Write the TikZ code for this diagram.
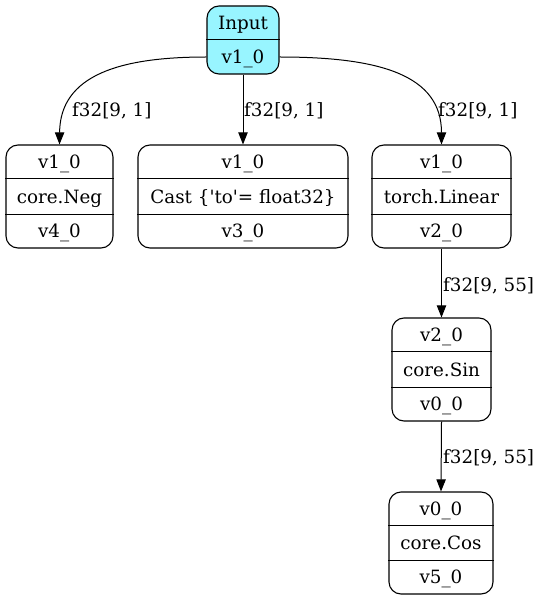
\documentclass[tikz,border=0pt]{standalone}
\usepackage{fontspec}
\setmainfont{DejaVu Serif}
\usetikzlibrary{arrows.meta}
\definecolor{incyan}{HTML}{98F5FF}
\tikzset{
  box/.style={draw, line width=1.1pt, rounded corners=12pt, inner sep=0pt, fill=white},
  txt/.style={inner sep=0pt, text height=13.3pt, text depth=0pt, font=\fontsize{18.3}{22}\selectfont},
  lbl/.style={txt, anchor=west},
  div/.style={line width=1pt},
  edge/.style={line width=1pt, -{Triangle[length=12pt,width=9.3pt]}}
}
\begin{document}
\begin{tikzpicture}[x=1pt,y=-1pt]
\useasboundingbox (0,0) rectangle (540,601);
% Input
\node[box, fill=incyan, minimum width=72pt, minimum height=68pt] (in) at (243,40) {};
\draw[div] (in.west) -- (in.east);
\node[txt] (in1) at (243,23) {Input};
\node[txt] (in2) at (243,57) {v1\_0};
% Neg
\node[box, minimum width=107pt, minimum height=103pt] (neg) at (59.5,196.5) {};
\draw[div] ([yshift=-34.3pt]neg.north west) -- ([yshift=-34.3pt]neg.north east);
\draw[div] ([yshift=34.3pt]neg.south west) -- ([yshift=34.3pt]neg.south east);
\node[txt] (neg1) at (59.5,162.2) {v1\_0};
\node[txt] (neg2) at (59.5,196.5) {core.Neg};
\node[txt] (neg3) at (59.5,230.8) {v4\_0};
% Cast
\node[box, minimum width=210pt, minimum height=103pt] (cast) at (243,196.5) {};
\draw[div] ([yshift=-34.3pt]cast.north west) -- ([yshift=-34.3pt]cast.north east);
\draw[div] ([yshift=34.3pt]cast.south west) -- ([yshift=34.3pt]cast.south east);
\node[txt] (cast1) at (243,162.2) {v1\_0};
\node[txt] (cast2) at (243,196.5) {Cast \{\textquotesingle to\textquotesingle= float32\}};
\node[txt] (cast3) at (243,230.8) {v3\_0};
% Linear
\node[box, minimum width=139pt, minimum height=103pt] (lin) at (441.5,196.5) {};
\draw[div] ([yshift=-34.3pt]lin.north west) -- ([yshift=-34.3pt]lin.north east);
\draw[div] ([yshift=34.3pt]lin.south west) -- ([yshift=34.3pt]lin.south east);
\node[txt] (lin1) at (441.5,162.2) {v1\_0};
\node[txt] (lin2) at (441.5,196.5) {torch.Linear};
\node[txt] (lin3) at (441.5,230.8) {v2\_0};
% Sin
\node[box, minimum width=99pt, minimum height=103pt] (sin) at (441.5,369.5) {};
\draw[div] ([yshift=-34.3pt]sin.north west) -- ([yshift=-34.3pt]sin.north east);
\draw[div] ([yshift=34.3pt]sin.south west) -- ([yshift=34.3pt]sin.south east);
\node[txt] (sin1) at (441.5,335.2) {v2\_0};
\node[txt] (sin2) at (441.5,369.5) {core.Sin};
\node[txt] (sin3) at (441.5,403.8) {v0\_0};
% Cos
\node[box, minimum width=104pt, minimum height=102pt] (cos) at (441,543) {};
\draw[div] ([yshift=-34pt]cos.north west) -- ([yshift=-34pt]cos.north east);
\draw[div] ([yshift=34pt]cos.south west) -- ([yshift=34pt]cos.south east);
\node[txt] (cos1) at (441,509) {v0\_0};
\node[txt] (cos2) at (441,543) {core.Cos};
\node[txt] (cos3) at (441,577) {v5\_0};
% edges
\draw[edge] (in2 -| in.west) .. controls (120,57) and (60,75) .. (neg.north);
\draw[edge] (in.south) -- (cast.north);
\draw[edge] (in2 -| in.east) .. controls (380,57) and (441.5,75) .. (lin.north);
\draw[edge] (lin.south) -- (sin.north);
\draw[edge] (sin.south) -- (cos.north);
% labels
\node[lbl] (l1) at (72,110) {f32[9, 1]};
\node[lbl] (l2) at (244,110) {f32[9, 1]};
\node[lbl] (l3) at (438,110) {f32[9, 1]};
\node[lbl] (l4) at (443,285) {f32[9, 55]};
\node[lbl] (l5) at (443,457) {f32[9, 55]};
\end{tikzpicture}
\end{document}
